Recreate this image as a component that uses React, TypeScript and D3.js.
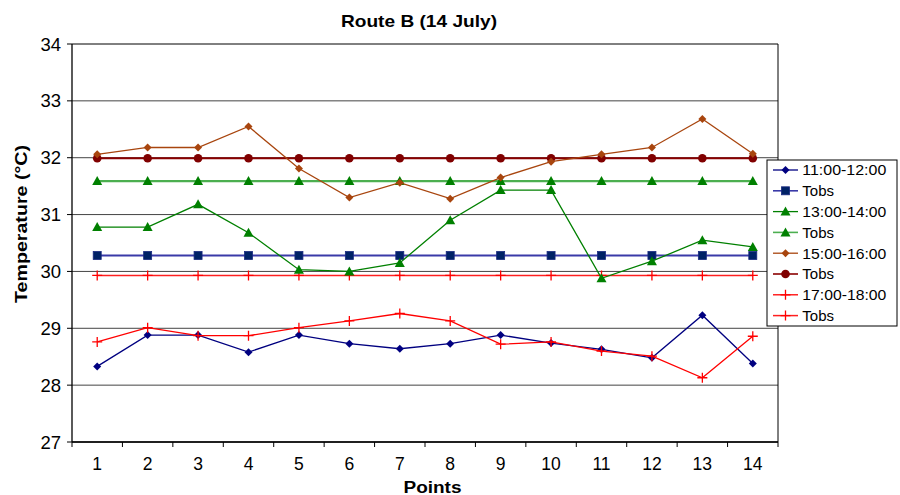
import React from "react";
import * as d3 from "d3";

const points = ["1","2","3","4","5","6","7","8","9","10","11","12","13","14"];
const yTicks = [27, 28, 29, 30, 31, 32, 33, 34];

const s1100 = [28.33, 28.88, 28.88, 28.58, 28.88, 28.73, 28.64, 28.73, 28.88, 28.74, 28.63, 28.48, 29.23, 28.38];
const tobs1100 = [30.28, 30.28, 30.28, 30.28, 30.28, 30.28, 30.28, 30.28, 30.28, 30.28, 30.28, 30.28, 30.28, 30.28];
const s1300 = [30.78, 30.78, 31.18, 30.68, 30.03, 30.0, 30.15, 30.9, 31.43, 31.43, 29.88, 30.18, 30.55, 30.43];
const tobs1300 = [31.59, 31.59, 31.59, 31.59, 31.59, 31.59, 31.59, 31.59, 31.59, 31.59, 31.59, 31.59, 31.59, 31.59];
const s1500 = [32.06, 32.18, 32.18, 32.55, 31.81, 31.3, 31.56, 31.28, 31.65, 31.93, 32.06, 32.18, 32.68, 32.07];
const tobs1500 = [31.99, 31.99, 31.99, 31.99, 31.99, 31.99, 31.99, 31.99, 31.99, 31.99, 31.99, 31.99, 31.99, 31.99];
const s1700 = [28.76, 29.01, 28.87, 28.87, 29.01, 29.13, 29.26, 29.13, 28.72, 28.76, 28.6, 28.51, 28.13, 28.86];
const tobs1700 = [29.93, 29.93, 29.93, 29.93, 29.93, 29.93, 29.93, 29.93, 29.93, 29.93, 29.93, 29.93, 29.93, 29.93];

const seriesNames = ["11:00-12:00", "Tobs", "13:00-14:00", "Tobs", "15:00-16:00", "Tobs", "17:00-18:00", "Tobs"];

type Series = { name: string; values: number[]; line: string; fill: string; marker: string; width: number };

const series: Series[] = [
  { name: seriesNames[1], values: tobs1100, line: "#3a3aa8", fill: "#002266", marker: "square", width: 2 },
  { name: seriesNames[3], values: tobs1300, line: "#4caf50", fill: "#008000", marker: "triangle", width: 2.2 },
  { name: seriesNames[5], values: tobs1500, line: "#8b0000", fill: "#800000", marker: "circle", width: 2 },
  { name: seriesNames[7], values: tobs1700, line: "#ff2020", fill: "#ff0000", marker: "plus", width: 1.5 },
  { name: seriesNames[0], values: s1100, line: "#000080", fill: "#000080", marker: "diamond", width: 1.3 },
  { name: seriesNames[2], values: s1300, line: "#008000", fill: "#008000", marker: "triangle", width: 1.3 },
  { name: seriesNames[4], values: s1500, line: "#a8450e", fill: "#a8450e", marker: "diamond", width: 1.3 },
  { name: seriesNames[6], values: s1700, line: "#ff0000", fill: "#ff0000", marker: "plus", width: 1.3 },
];

const legendOrder = [4, 0, 5, 1, 6, 2, 7, 3];

function Marker({ type, x, y, color }: { type: string; x: number; y: number; color: string }) {
  if (type === "square") return <rect x={x - 4} y={y - 4} width={8} height={8} fill={color} stroke="#1a2a80" strokeWidth={0.8} />;
  if (type === "triangle") return <path d={`M${x},${y - 5}L${x + 5},${y + 4}L${x - 5},${y + 4}Z`} fill={color} />;
  if (type === "circle") return <circle cx={x} cy={y} r={4.3} fill={color} />;
  if (type === "diamond") return <path d={`M${x},${y - 4}L${x + 4},${y}L${x},${y + 4}L${x - 4},${y}Z`} fill={color} />;
  return <path d={`M${x - 5},${y}H${x + 5}M${x},${y - 5}V${y + 5}`} stroke={color} strokeWidth={1.3} fill="none" />;
}

export default function App() {
  const W = 900, H = 495;
  const left = 72, right = 778, top = 44, bottom = 442;
  const x = d3.scaleBand<string>().domain(points).range([left, right]);
  const y = d3.scaleLinear().domain([27, 34]).range([bottom, top]);
  const cx = (p: string) => (x(p) as number) + x.bandwidth() / 2;
  const line = d3.line<number>().x((_, i) => cx(points[i])).y((v) => y(v));
  const font = "Arial, 'Liberation Sans', sans-serif";

  const lgX = 767, lgY = 160, lgW = 130, lgH = 166;
  const lgStep = 20.8;

  return (
    <svg width={W} height={H} style={{ position: "absolute", left: 0, top: 0 }} fontFamily={font}>
      <rect width={W} height={H} fill="#fff" />
      <text x={419} y={27} textAnchor="middle" fontSize={17} fontWeight="bold" textLength={156} lengthAdjust="spacingAndGlyphs">Route B (14 July)</text>
      {yTicks.map((t) => (
        <g key={t}>
          <line x1={left} x2={right} y1={y(t)} y2={y(t)} stroke={t === 34 || t === 27 ? "#000" : "#444"} strokeWidth={1} />
          <line x1={left - 5} x2={left} y1={y(t)} y2={y(t)} stroke="#000" />
          <text x={61} y={y(t) + 6.5} textAnchor="end" fontSize={18.5}>{t}</text>
        </g>
      ))}
      <line x1={left} x2={left} y1={top} y2={bottom} stroke="#000" strokeWidth={1.3} />
      <line x1={right} x2={right} y1={top} y2={bottom} stroke="#000" strokeWidth={1} />
      <line x1={left} x2={right} y1={bottom} y2={bottom} stroke="#000" strokeWidth={1.5} />
      {points.map((p, i) => (
        <g key={p}>
          <line x1={x(p) as number} x2={x(p) as number} y1={bottom} y2={bottom + 5} stroke="#000" />
          {i === points.length - 1 && <line x1={right} x2={right} y1={bottom} y2={bottom + 5} stroke="#000" />}
          <text x={cx(p)} y={470} textAnchor="middle" fontSize={17.5}>{p}</text>
        </g>
      ))}
      <text x={432.5} y={492.5} textAnchor="middle" fontSize={16} fontWeight="bold" textLength={58} lengthAdjust="spacingAndGlyphs">Points</text>
      <text transform={`translate(26.5,224) rotate(-90)`} textAnchor="middle" fontSize={16} fontWeight="bold" textLength={158} lengthAdjust="spacingAndGlyphs">Temperature (°C)</text>
      {series.map((s, si) => (
        <g key={si}>
          <path d={line(s.values) || ""} fill="none" stroke={s.line} strokeWidth={s.width} />
          {s.values.map((v, i) => (
            <Marker key={i} type={s.marker} x={cx(points[i])} y={y(v)} color={s.fill} />
          ))}
        </g>
      ))}
      <rect x={lgX} y={lgY} width={lgW} height={lgH} fill="#fff" stroke="#000" strokeWidth={1} />
      {legendOrder.map((idx, k) => {
        const s = series[idx];
        const ly = 170 + lgStep * k;
        const isTime = s.name !== "Tobs";
        return (
          <g key={k}>
            <line x1={773} x2={798} y1={ly} y2={ly} stroke={s.line} strokeWidth={Math.min(s.width, 1.6)} />
            <Marker type={s.marker} x={785.5} y={ly} color={s.fill} />
            {isTime ? (
              <text x={802.3} y={ly + 5.3} fontSize={15} textLength={84} lengthAdjust="spacingAndGlyphs">{s.name}</text>
            ) : (
              <text x={802.3} y={ly + 5.3} fontSize={15}>{s.name}</text>
            )}
          </g>
        );
      })}
    </svg>
  );
}
